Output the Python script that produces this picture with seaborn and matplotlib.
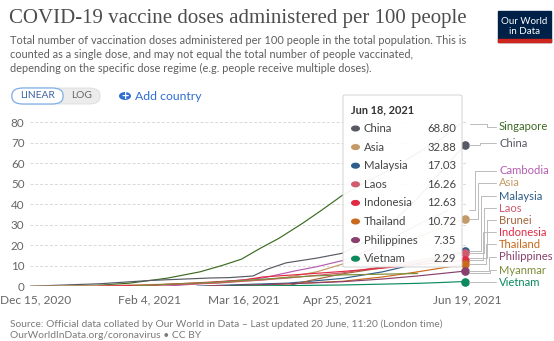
import numpy as np
import pandas as pd
import matplotlib
matplotlib.use("Agg")
import matplotlib.pyplot as plt
import matplotlib.dates as mdates
from matplotlib.patches import FancyBboxPatch, Rectangle, Circle
from matplotlib.lines import Line2D
from matplotlib.transforms import ScaledTranslation
import seaborn as sns

# ---------------- data (day offsets from 2020-12-15, doses per 100) ----------------
start = pd.Timestamp("2020-12-15")
singapore_days = [15, 29.8, 42.5, 58.3, 72.3, 82, 90, 98, 106, 116, 124, 133, 145, 155, 165, 175, 183]
singapore_vals = [0, 0.5, 1.5, 3.9, 7, 10.2, 13.2, 18.5, 23.4, 30.7, 37, 44.4, 52, 58, 65, 72, 79]
china_days = [0, 29.8, 51, 76.6, 85, 95, 101, 109, 122, 133, 145, 155, 165, 175, 185]
china_vals = [0, 1.2, 2.8, 4.0, 4.2, 5.0, 8.3, 11.4, 13.7, 16.1, 23, 32, 43, 56, 68.8]
cambodia_days = [57, 70, 85, 99, 113, 122, 133, 145, 155, 165, 178]
cambodia_vals = [0, 1, 2.5, 4, 7.5, 9.5, 12.5, 18, 24, 30, 37]
asia_days = [0, 30, 51, 77, 85, 99, 110, 122, 133, 145, 155, 165, 175, 185]
asia_vals = [0, 0.3, 0.8, 1.5, 2.2, 3, 4.5, 7, 10.8, 15, 19.5, 24, 28.5, 32.88]
malaysia_days = [71, 90, 110, 133, 150, 165, 185]
malaysia_vals = [0, 0.8, 1.5, 3.8, 7, 11, 17.03]
laos_days = [43, 80, 110, 133, 150, 165, 185]
laos_vals = [0, 1.5, 4, 6.5, 9.5, 12.5, 16.26]
brunei_days = [109, 120, 133, 150, 165, 180]
brunei_vals = [0, 3, 6, 9, 11.5, 14]
indonesia_days = [29, 51, 77, 91, 99, 122, 133, 150, 165, 185]
indonesia_vals = [0, 0.5, 2, 3, 4.5, 6.3, 7.2, 8.8, 10.5, 12.63]
thailand_days = [75, 100, 122, 133, 150, 165, 185]
thailand_vals = [0, 0.6, 1.8, 2.4, 4.5, 7, 10.72]
philippines_days = [76, 100, 122, 133, 150, 165, 185]
philippines_vals = [0, 0.8, 1.7, 2.2, 3.5, 5, 7.35]
myanmar_days = [43, 60, 80, 100, 120, 133, 165]
myanmar_vals = [0, 1, 2, 3.5, 5, 5.5, 6.2]
vietnam_days = [83, 110, 133, 150, 165, 175, 185]
vietnam_vals = [0, 0.3, 0.6, 1.0, 1.4, 1.8, 2.29]

series = {
    "Singapore": (singapore_days, singapore_vals),
    "China": (china_days, china_vals),
    "Cambodia": (cambodia_days, cambodia_vals),
    "Asia": (asia_days, asia_vals),
    "Malaysia": (malaysia_days, malaysia_vals),
    "Laos": (laos_days, laos_vals),
    "Brunei": (brunei_days, brunei_vals),
    "Indonesia": (indonesia_days, indonesia_vals),
    "Thailand": (thailand_days, thailand_vals),
    "Philippines": (philippines_days, philippines_vals),
    "Myanmar": (myanmar_days, myanmar_vals),
    "Vietnam": (vietnam_days, vietnam_vals),
}
colors = {
    "Singapore": "#3b6b22", "China": "#575a63", "Cambodia": "#b65cb0", "Asia": "#c39a66",
    "Malaysia": "#2d5d89", "Laos": "#d05a6e", "Brunei": "#a4643c", "Indonesia": "#e12b45",
    "Thailand": "#c8691b", "Philippines": "#88406c", "Myanmar": "#7d8c3a", "Vietnam": "#0b8a5e",
}
tooltip_names = ["China", "Asia", "Malaysia", "Laos", "Indonesia", "Thailand", "Philippines", "Vietnam"]
tooltip_vals = ["68.80", "32.88", "17.03", "16.26", "12.63", "10.72", "7.35", "2.29"]
label_order = ["Singapore", "China", "Cambodia", "Asia", "Malaysia", "Laos", "Brunei",
               "Indonesia", "Thailand", "Philippines", "Myanmar", "Vietnam"]
x_ticks = ["2020-12-15", "2021-02-04", "2021-03-16", "2021-04-25", "2021-06-19"]
x_ticklabels = ["Dec 15, 2020", "Feb 4, 2021", "Mar 16, 2021", "Apr 25, 2021", "Jun 19, 2021"]
y_ticks = [0, 10, 20, 30, 40, 50, 60, 70, 80]

rows = []
for name, (d, v) in series.items():
    for di, vi in zip(d, v):
        rows.append({"date": start + pd.Timedelta(days=float(di)), "value": vi, "country": name})
df = pd.DataFrame(rows)

# ---------------- figure ----------------
sns.set_style("white")
plt.rcParams["font.family"] = ["Lato", "DejaVu Sans"]
W, H = 554, 341
fig = plt.figure(figsize=(W / 100, H / 100), dpi=100)

def fx(x):
    return x / W

def fy(y):
    return 1 - y / H

ax = fig.add_axes([fx(30), fy(286.2), fx(467) - fx(30), fy(122.3) - fy(286.2)])
sns.lineplot(data=df, x="date", y="value", hue="country", palette=colors, ax=ax,
             linewidth=0.85, legend=False, estimator=None, sort=False)

ax.set_xlim(pd.Timestamp(x_ticks[0]), pd.Timestamp(x_ticks[-1]))
ax.set_ylim(0, 80)
ax.set_yticks(y_ticks)
ax.set_yticklabels([str(t) for t in y_ticks])
ax.set_xticks([pd.Timestamp(t) for t in x_ticks])
ax.set_xticklabels(x_ticklabels)
ax.set_xlabel("")
ax.set_ylabel("")
for s in ax.spines.values():
    s.set_visible(False)
ax.grid(False)
for t in y_ticks:
    ax.axhline(t, color="#d9d9d9", lw=0.7, ls=(0, (3, 2)), zorder=0)
ax.tick_params(axis="y", length=0, labelsize=8.4, labelcolor="#666666", pad=4)
ax.tick_params(axis="x", length=3, color="#cccccc", labelsize=8.6, labelcolor="#666666", pad=3)
xl = ax.get_xticklabels()
xl[0].set_horizontalalignment("left")
xl[0].set_transform(xl[0].get_transform() + ScaledTranslation(-30 / 100, 0, fig.dpi_scale_trans))

# end dots for tooltip series
for name in tooltip_names:
    d, v = series[name]
    ax.plot(start + pd.Timedelta(days=float(d[-1])), v[-1], "o", ms=5.2, color=colors[name],
            zorder=6, clip_on=False)

# ---------------- header ----------------
fig.text(fx(9), fy(19), "COVID-19 vaccine doses administered per 100 people",
         family=["Liberation Serif", "DejaVu Serif"], fontsize=15, color="#4d4d4d", va="center")
subtitle = ["Total number of vaccination doses administered per 100 people in the total population. This is",
            "counted as a single dose, and may not equal the total number of people vaccinated,",
            "depending on the specific dose regime (e.g. people receive multiple doses)."]
for i, line in enumerate(subtitle):
    fig.text(fx(10), fy(40 + i * 14), line, fontsize=7.9, color="#5e5e5e", va="center")

# logo
fig.add_artist(Rectangle((fx(498), fy(42)), fx(53), fy(11) - fy(42), transform=fig.transFigure,
                         color="#002147", zorder=5))
fig.add_artist(Rectangle((fx(498), fy(42)), fx(53), fy(39) - fy(42), transform=fig.transFigure,
                         color="#ce261e", zorder=6))
fig.text(fx(524.5), fy(21), "Our World", color="white", fontsize=7, ha="center", va="center", zorder=7)
fig.text(fx(524.5), fy(31), "in Data", color="white", fontsize=7, ha="center", va="center", zorder=7)

# buttons
fig.add_artist(FancyBboxPatch((fx(12), fy(104)), fx(88), fy(88) - fy(104),
                              boxstyle="round,pad=0,rounding_size=0.02", transform=fig.transFigure,
                              fc="#ececec", ec="#dddddd", lw=0.6, zorder=3))
fig.add_artist(FancyBboxPatch((fx(12), fy(104)), fx(51), fy(88) - fy(104),
                              boxstyle="round,pad=0,rounding_size=0.02", transform=fig.transFigure,
                              fc="white", ec="#7fb0e8", lw=0.9, zorder=4))
fig.text(fx(37.5), fy(96), "LINEAR", fontsize=7.4, color="#3f64a0", ha="center", va="center", zorder=5)
fig.text(fx(81.5), fy(96), "LOG", fontsize=7.4, color="#666666", ha="center", va="center", zorder=5)
fig.add_artist(Circle((fx(125), fy(96)), fx(5.3), transform=fig.transFigure, color="#2f6fd0", zorder=5))
fig.text(fx(125), fy(96.3), "+", fontsize=9, fontweight="bold", color="white", ha="center",
         va="center", zorder=6)
fig.text(fx(135), fy(96), "Add country", fontsize=8.8, color="#2f6fd0", va="center", zorder=5)

# ---------------- tooltip ----------------
fig.add_artist(FancyBboxPatch((fx(343), fy(267)), fx(462) - fx(343), fy(95) - fy(267),
                              boxstyle="round,pad=0,rounding_size=0.004", transform=fig.transFigure,
                              fc="white", ec="#d0d0d0", lw=0.7, alpha=0.93, zorder=8))
fig.text(fx(351), fy(110), "Jun 18, 2021", fontsize=7.9, fontweight="bold", color="#333333",
         va="center", zorder=9)
for i, (n, v) in enumerate(zip(tooltip_names, tooltip_vals)):
    yy = 128.5 + i * 18.6
    fig.add_artist(Circle((fx(355.5), fy(yy)), fx(3.8), transform=fig.transFigure,
                          color=colors[n], zorder=9))
    fig.text(fx(364), fy(yy), n, fontsize=8.2, color="#444444", va="center", zorder=9)
    fig.text(fx(456), fy(yy), v, fontsize=8.2, color="#444444", va="center", ha="right", zorder=9)

# ---------------- right-hand labels with connectors ----------------
label_y = [127, 143, 171, 183, 196, 208, 220, 232, 244, 257, 270, 282]
elbow_x = [487, 480, 475, 478, 481, 484, 487, 483, 486, 489, 490, 480]
for name, ly, ex in zip(label_order, label_y, elbow_x):
    d, v = series[name]
    px, py = ax.transData.transform((mdates.date2num(start + pd.Timedelta(days=float(d[-1]))), v[-1]))
    ey = H - py
    sx = max(px, 469)
    if name == "Singapore":
        ey = 124
        sx = 470
    fig.add_artist(Line2D([fx(sx), fx(ex), fx(ex), fx(496)], [fy(ey), fy(ey), fy(ly), fy(ly)],
                          transform=fig.transFigure, color="#bbbbbb", lw=0.7, zorder=4))
    fig.text(fx(499), fy(ly), name, fontsize=8.1, color=colors[name], va="center", zorder=5)

# ---------------- footer ----------------
fig.text(fx(10), fy(324), "Source: Official data collated by Our World in Data – Last updated 20 June, 11:20 (London time)",
         fontsize=7.4, color="#7a7a7a", va="center")
fig.text(fx(10), fy(336), "OurWorldInData.org/coronavirus • CC BY", fontsize=7.4, color="#7a7a7a", va="center")

fig.savefig("out.png", dpi=100)
